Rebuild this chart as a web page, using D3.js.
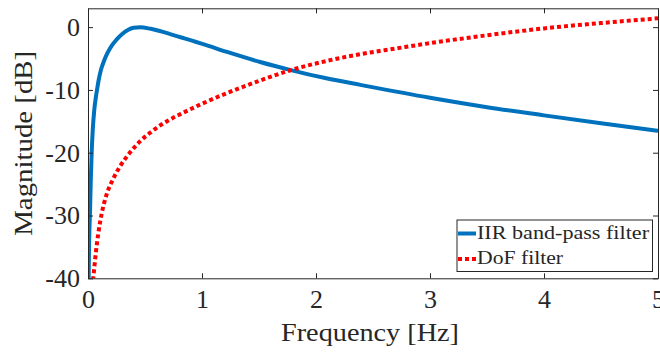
<!DOCTYPE html>
<html>
<head>
<meta charset="utf-8">
<script src="https://cdn.jsdelivr.net/npm/d3@7"></script>
<style>
  html, body { margin: 0; padding: 0; background: #fff; }
  svg { display: block; }
  text { font-family: "Liberation Serif", "DejaVu Serif", "Times New Roman", serif; fill: #262626; }
</style>
</head>
<body>
<svg id="chart" width="660" height="352"></svg>
<script>
// Frequency response of the two filters (frequency in Hz, magnitude in dB)
const iirFreq = [0.004, 0.01, 0.018, 0.025, 0.032, 0.042, 0.055, 0.067, 0.079, 0.095, 0.114, 0.14, 0.17, 0.21, 0.25, 0.3, 0.35, 0.4, 0.46, 0.55, 0.63, 0.72, 0.82, 0.92, 1.01, 1.22, 1.51, 1.77, 2.09, 2.39, 3.0, 3.5, 4.0, 4.5, 5.0];
const iirMag  = [-42, -34, -29.2, -24, -20.1, -16.3, -13.2, -11.4, -10, -8.3, -6.8, -5.4, -4.15, -2.9, -2.0, -1.1, -0.45, -0.1, 0, -0.27, -0.62, -1.1, -1.65, -2.2, -2.7, -3.95, -5.55, -6.8, -8.15, -9.2, -11.25, -12.75, -14.05, -15.3, -16.5];

const dofFreq = [0.044, 0.057, 0.067, 0.09, 0.12, 0.164, 0.22, 0.28, 0.35, 0.456, 0.56, 0.70, 0.85, 1.0, 1.22, 1.51, 1.77, 2.09, 2.39, 2.7, 3.0, 3.5, 4.0, 4.5, 5.0];
const dofMag  = [-40.3, -38, -36.2, -32.9, -29.7, -26.6, -24.2, -22.2, -20.4, -18.2, -16.6, -14.9, -13.5, -12.2, -10.5, -8.5, -6.9, -5.4, -4.3, -3.4, -2.55, -1.3, -0.2, 0.65, 1.4];

const seriesNames = ["IIR band-pass filter", "DoF filter"];
const xTicks = [0, 1, 2, 3, 4, 5];
const yTicks = [-40, -30, -20, -10, 0];
const xDomain = [0, 5];
const yDomain = [-40, 3];

const axisColor = "#262626";
const iirColor = "#0072BD";
const dofColor = "#FF0000";
const serif = '"Liberation Serif", "DejaVu Serif", serif';

const svg = d3.select("#chart");
const plot = { left: 88, right: 658, top: 8.3, bottom: 278.3 };

const x = d3.scaleLinear().domain(xDomain).range([plot.left, plot.right]);
const y = d3.scaleLinear().domain(yDomain).range([plot.bottom, plot.top]);

svg.append("defs").append("clipPath").attr("id", "plot-clip")
  .append("rect")
  .attr("x", plot.left).attr("y", plot.top)
  .attr("width", plot.right - plot.left).attr("height", plot.bottom - plot.top);

// Curves
const line = d3.line()
  .x(d => x(d[0]))
  .y(d => y(d[1]))
  .curve(d3.curveMonotoneX);

const iirData = iirFreq.map((f, i) => [f, iirMag[i]]);
const dofData = dofFreq.map((f, i) => [f, dofMag[i]]);

const curves = svg.append("g").attr("clip-path", "url(#plot-clip)");
curves.append("path")
  .datum(iirData)
  .attr("d", line)
  .attr("fill", "none")
  .attr("stroke", iirColor)
  .attr("stroke-width", 4)
  .attr("stroke-linejoin", "round");

curves.append("path")
  .datum(dofData)
  .attr("d", line)
  .attr("fill", "none")
  .attr("stroke", dofColor)
  .attr("stroke-width", 4)
  .attr("stroke-dasharray", "4,3");

// Axes box with inward ticks on all four sides
const tickLen = 5;
function styleAxis(g) {
  g.selectAll("path.domain").attr("stroke", axisColor).attr("stroke-width", 1);
  g.selectAll(".tick line").attr("stroke", axisColor).attr("stroke-width", 1);
  g.selectAll(".tick text").attr("fill", axisColor)
    .style("font-family", serif).style("font-size", "26px");
}

svg.append("g")
  .attr("transform", `translate(0,${plot.bottom})`)
  .call(d3.axisBottom(x).tickValues(xTicks).tickFormat(d3.format("d"))
    .tickSizeInner(-tickLen).tickSizeOuter(0).tickPadding(11.5))
  .call(styleAxis);

svg.append("g")
  .attr("transform", `translate(0,${plot.top})`)
  .call(d3.axisTop(x).tickValues(xTicks).tickFormat("")
    .tickSizeInner(-tickLen).tickSizeOuter(0))
  .call(styleAxis);

svg.append("g")
  .attr("transform", `translate(${plot.left},0)`)
  .call(d3.axisLeft(y).tickValues(yTicks).tickFormat(d => d3.format("d")(d).replace("\u2212", "-"))
    .tickSizeInner(-tickLen).tickSizeOuter(0).tickPadding(8))
  .call(styleAxis);

svg.append("g")
  .attr("transform", `translate(${plot.right},0)`)
  .call(d3.axisRight(y).tickValues(yTicks).tickFormat("")
    .tickSizeInner(-tickLen).tickSizeOuter(0))
  .call(styleAxis);

// Axis titles
svg.append("text")
  .attr("x", 370).attr("y", 341)
  .attr("text-anchor", "middle")
  .attr("textLength", 178).attr("lengthAdjust", "spacingAndGlyphs")
  .style("font-family", serif).style("font-size", "26px")
  .text("Frequency [Hz]");

svg.append("text")
  .attr("transform", `translate(32,${(plot.top + plot.bottom) / 2}) rotate(-90)`)
  .attr("text-anchor", "middle")
  .attr("textLength", 185).attr("lengthAdjust", "spacingAndGlyphs")
  .style("font-family", serif).style("font-size", "26px")
  .text("Magnitude [dB]");

// Legend
const legend = svg.append("g").attr("transform", "translate(457,220)");
legend.append("rect")
  .attr("x", 0).attr("y", 0).attr("width", 195.5).attr("height", 51.5)
  .attr("fill", "#fff").attr("stroke", axisColor).attr("stroke-width", 1);

const legendItems = [
  { name: seriesNames[0], color: iirColor, dash: null, ly: 13.5, ty: 18.5, len: 172 },
  { name: seriesNames[1], color: dofColor, dash: "4,3", ly: 39, ty: 43.5, len: 86 }
];
legendItems.forEach(it => {
  legend.append("line")
    .attr("x1", 1).attr("x2", 19).attr("y1", it.ly).attr("y2", it.ly)
    .attr("stroke", it.color).attr("stroke-width", 4)
    .attr("stroke-dasharray", it.dash);
  legend.append("text")
    .attr("x", 20).attr("y", it.ty)
    .attr("textLength", it.len).attr("lengthAdjust", "spacingAndGlyphs")
    .style("font-family", serif).style("font-size", "19.5px")
    .text(it.name);
});
</script>
</body>
</html>
